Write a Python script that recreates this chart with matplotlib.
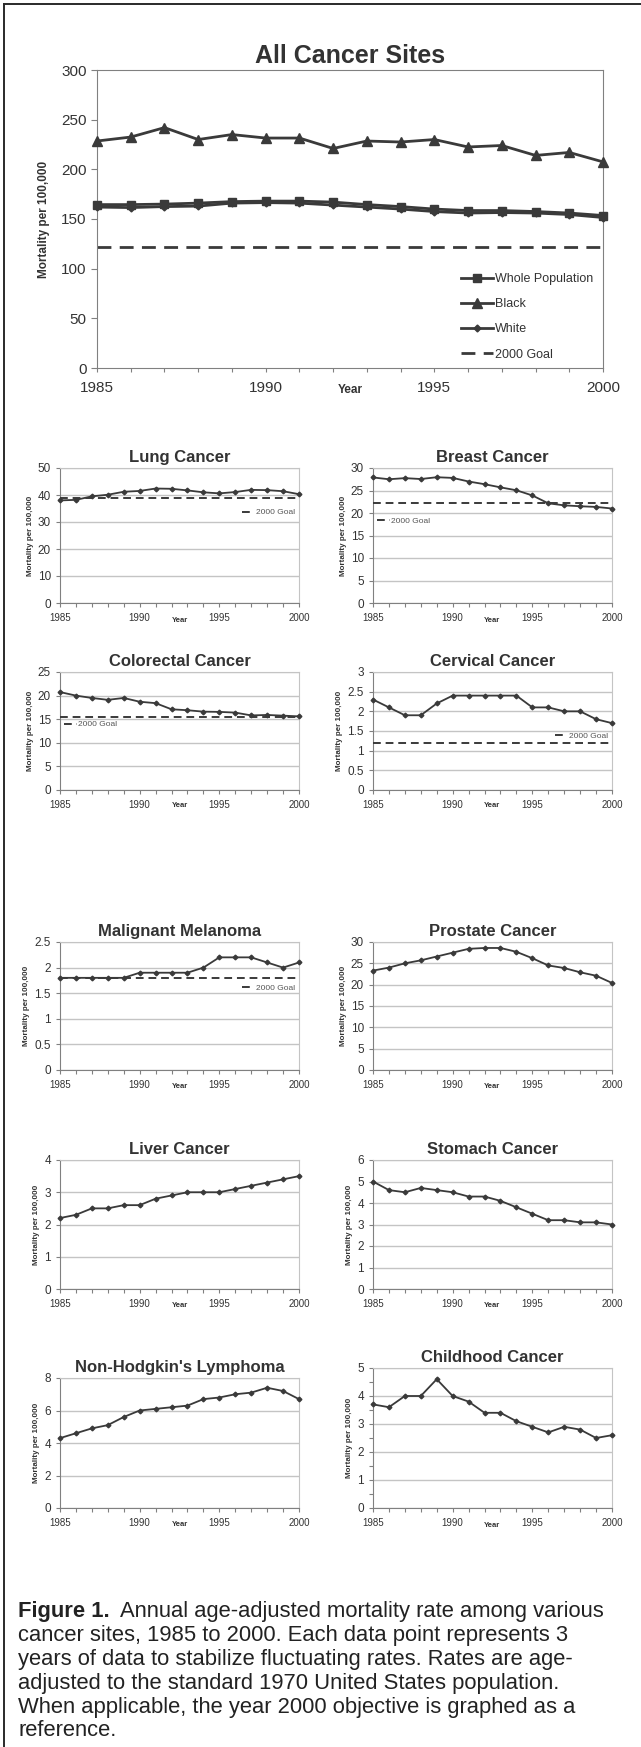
import numpy as np
import matplotlib.pyplot as plt
from matplotlib.ticker import FuncFormatter, MultipleLocator

# data
years = list(range(1985, 2001))

whole_pop = [164.5, 164.5, 165, 166, 167.5, 168, 168, 167, 164.5, 162.5, 160, 158.5, 158.5, 157.5, 156, 153.5]
black = [228.5, 232.5, 242, 230, 235, 231.5, 231.5, 221, 228.5, 227.5, 230, 222.5, 224, 214, 217, 207.5]
white = [162, 161.5, 162.5, 163, 166, 166.5, 166, 164, 162, 160, 157.5, 156, 156.5, 156, 154.5, 151.5]
all_goal = 122

lung = [38, 38.2, 39.5, 40.1, 41.2, 41.5, 42.4, 42.3, 41.7, 41, 40.6, 41.1, 41.9, 41.8, 41.4, 40.3]
lung_goal = 39
breast = [27.9, 27.5, 27.75, 27.55, 27.95, 27.8, 27, 26.4, 25.7, 25.05, 23.9, 22.15, 21.7, 21.5, 21.35, 21]
breast_goal = 22.3
colorectal = [20.75, 20, 19.5, 19.1, 19.5, 18.7, 18.4, 17.1, 16.9, 16.6, 16.55, 16.4, 15.8, 15.9, 15.75, 15.6]
colorectal_goal = 15.5
cervical = [2.3, 2.1, 1.9, 1.9, 2.2, 2.4, 2.4, 2.4, 2.4, 2.4, 2.1, 2.1, 2.0, 2.0, 1.8, 1.7]
cervical_goal = 1.2
melanoma = [1.8, 1.8, 1.8, 1.8, 1.8, 1.9, 1.9, 1.9, 1.9, 2.0, 2.2, 2.2, 2.2, 2.1, 2.0, 2.1]
melanoma_goal = 1.8
prostate = [23.3, 24, 25, 25.7, 26.6, 27.5, 28.4, 28.6, 28.6, 27.7, 26.2, 24.5, 23.9, 22.9, 22.1, 20.4]
liver = [2.2, 2.3, 2.5, 2.5, 2.6, 2.6, 2.8, 2.9, 3.0, 3.0, 3.0, 3.1, 3.2, 3.3, 3.4, 3.5]
stomach = [5.0, 4.6, 4.5, 4.7, 4.6, 4.5, 4.3, 4.3, 4.1, 3.8, 3.5, 3.2, 3.2, 3.1, 3.1, 3.0]
nhl = [4.3, 4.6, 4.9, 5.1, 5.6, 6.0, 6.1, 6.2, 6.3, 6.7, 6.8, 7.0, 7.1, 7.4, 7.2, 6.7]
childhood = [3.7, 3.6, 4.0, 4.0, 4.6, 4.0, 3.8, 3.4, 3.4, 3.1, 2.9, 2.7, 2.9, 2.8, 2.5, 2.6]

caption_lines = [
    "cancer sites, 1985 to 2000. Each data point represents 3",
    "years of data to stabilize fluctuating rates. Rates are age-",
    "adjusted to the standard 1970 United States population.",
    "When applicable, the year 2000 objective is graphed as a",
    "reference.",
]

ARIAL = ['Liberation Sans', 'DejaVu Sans']
plt.rcParams['font.family'] = ARIAL

LINE = '#3a3a3a'
GRID = '#c4c4c4'
SPINE = '#808080'
TXT = '#333333'

W, H = 641, 1747
fig = plt.figure(figsize=(W / 100, H / 100), dpi=100)


def box(l, t, r, b):
    return [l / W, 1 - b / H, (r - l) / W, (b - t) / H]


def year_axis(ax, lab_size, year_size, pad, ypos):
    ax.set_xlim(1985, 2000)
    ax.set_xticks(years)
    ax.set_xticklabels([str(y) if y % 5 == 0 else '' for y in years])
    ax.tick_params(axis='x', direction='out', length=3, width=0.8, color=SPINE,
                   labelsize=lab_size, labelcolor=TXT, pad=pad)
    ax.text(1992.5, ypos, 'Year', transform=ax.get_xaxis_transform(),
            ha='center', va='top', fontsize=year_size, fontweight='bold', color=TXT)


# ---- big chart
ax = fig.add_axes(box(97, 70, 603, 368))
ax.plot(years, whole_pop, color=LINE, lw=2, marker='s', ms=6, clip_on=False, zorder=4, label='Whole Population')
ax.plot(years, black, color=LINE, lw=2, marker='^', ms=7, clip_on=False, zorder=4, label='Black')
ax.plot(years, white, color=LINE, lw=2, marker='D', ms=3.5, clip_on=False, zorder=5, label='White')
ax.axhline(all_goal, color=LINE, lw=2, ls=(0, (5, 3)), label='2000 Goal', clip_on=False)
ax.set_ylim(0, 300)
ax.set_yticks(range(0, 301, 50))
ax.tick_params(axis='y', direction='out', length=4, width=0.8, color=SPINE, labelsize=11, labelcolor=TXT)
year_axis(ax, 11, 8.5, 6, -0.055)
for s in ax.spines.values():
    s.set_color(SPINE)
ax.set_title('All Cancer Sites', fontsize=18, fontweight='bold', color=TXT, pad=5)
ax.set_ylabel('Mortality per 100,000', fontsize=8.5, fontweight='bold', color=TXT, labelpad=8)
ax.legend(loc='lower right', bbox_to_anchor=(0.995, 0.0), frameon=False, fontsize=9,
          handlelength=2.6, handletextpad=0.1, labelspacing=1.05, labelcolor=TXT,
          borderaxespad=0.2)


def small_chart(rect, title, values, ymax, ystep, goal=None, leg=None, minor=None):
    ax = fig.add_axes(box(*rect))
    ax.plot(years, values, color=LINE, lw=1.3, marker='D', ms=2.4, clip_on=False, zorder=4)
    if goal is not None:
        ax.axhline(goal, color=LINE, lw=1.4, ls=(0, (4, 2.5)), label='2000 Goal', zorder=3)
    ax.set_ylim(0, ymax)
    ax.set_yticks(np.arange(0, ymax + ystep / 2, ystep))
    ax.yaxis.set_major_formatter(FuncFormatter(lambda v, p: f'{v:g}'))
    if minor:
        ax.yaxis.set_minor_locator(MultipleLocator(minor))
    ax.tick_params(axis='y', which='both', direction='out', length=3, width=0.8, color=SPINE,
                   labelsize=8.5, labelcolor=TXT)
    year_axis(ax, 7, 5.5, 4, -0.1)
    ax.grid(axis='y', color=GRID, lw=1)
    ax.set_axisbelow(True)
    ax.spines['left'].set_color(SPINE)
    ax.spines['bottom'].set_color(SPINE)
    ax.spines['top'].set_color(GRID)
    ax.spines['right'].set_color(GRID)
    ax.set_title(title, fontsize=12, fontweight='bold', color=TXT, pad=4)
    ax.set_ylabel('Mortality per 100,000', fontsize=5.8, fontweight='bold', color=TXT, labelpad=3)
    if leg is not None:
        loc, anchor = leg
        ax.legend(loc=loc, bbox_to_anchor=anchor, frameon=False, fontsize=6,
                  handlelength=1.5, handletextpad=0.2, borderaxespad=0, borderpad=0.2, labelcolor='#555555')
    return ax


LX = (60, 299)
RX = (373, 612)

small_chart((LX[0], 468, LX[1], 603), 'Lung Cancer', lung, 50, 10, lung_goal, ('center right', (0.99, 0.67)))
small_chart((RX[0], 468, RX[1], 603), 'Breast Cancer', breast, 30, 5, breast_goal, ('center left', (0.01, 0.61)))
small_chart((LX[0], 672, LX[1], 790), 'Colorectal Cancer', colorectal, 25, 5, colorectal_goal, ('center left', (0.01, 0.555)))
small_chart((RX[0], 672, RX[1], 790), 'Cervical Cancer', cervical, 3, 0.5, cervical_goal, ('center right', (0.99, 0.46)))
small_chart((LX[0], 942, LX[1], 1070), 'Malignant Melanoma', melanoma, 2.5, 0.5, melanoma_goal, ('center right', (0.99, 0.64)))
small_chart((RX[0], 942, RX[1], 1070), 'Prostate Cancer', prostate, 30, 5)
small_chart((LX[0], 1160, LX[1], 1289), 'Liver Cancer', liver, 4, 1)
small_chart((RX[0], 1160, RX[1], 1289), 'Stomach Cancer', stomach, 6, 1)
small_chart((LX[0], 1378, LX[1], 1508), "Non-Hodgkin's Lymphoma", nhl, 8, 2)
small_chart((RX[0], 1368, RX[1], 1508), 'Childhood Cancer', childhood, 5, 1, minor=0.5)

# ---- outer frame (top and left edges)
frame = fig.add_axes([0, 0, 1, 1], zorder=-1)
frame.set_xlim(0, W)
frame.set_ylim(H, 0)
frame.axis('off')
frame.plot([4, W], [4, 4], color='#2a2a2a', lw=1.4)
frame.plot([4, 4], [4, H], color='#2a2a2a', lw=1.4)

# ---- caption
cap_size = 15.8
cap_y0 = 1612
cap_step = 23.8
t0 = fig.text(18 / W, 1 - cap_y0 / H, 'Figure 1.', fontsize=cap_size, fontweight='bold',
              color='#222222', va='center')
fig.canvas.draw()
bb = t0.get_window_extent()
fig.text((bb.x1 + 10) / W, 1 - cap_y0 / H, 'Annual age-adjusted mortality rate among various',
         fontsize=cap_size, color='#222222', va='center')
for i, line in enumerate(caption_lines):
    fig.text(18 / W, 1 - (cap_y0 + cap_step * (i + 1)) / H, line, fontsize=cap_size,
             color='#222222', va='center')

fig.savefig('out.png', dpi=100, facecolor='white')
